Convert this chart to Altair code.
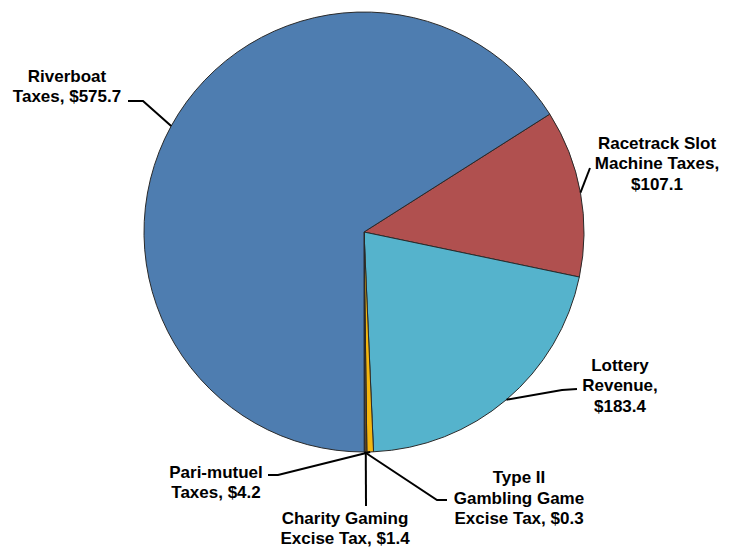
import math
import altair as alt
import pandas as pd

# ---- data ----
categories = ["Racetrack Slot Machine Taxes", "Lottery Revenue", "Pari-mutuel Taxes",
              "Charity Gaming Excise Tax", "Type II Gambling Game Excise Tax", "Riverboat Taxes"]
values = [107.1, 183.4, 4.2, 1.4, 0.3, 575.7]
labels = ["Racetrack Slot\nMachine Taxes,\n$107.1",
          "Lottery\nRevenue,\n$183.4",
          "Pari-mutuel\nTaxes, $4.2",
          "Charity Gaming\nExcise Tax, $1.4",
          "Type II\nGambling Game\nExcise Tax, $0.3",
          "Riverboat\nTaxes, $575.7"]
colors = ["#B0504F", "#55B3CC", "#F4B70F", "#6B4A1E", "#3D2B14", "#4E7DB0"]

# ---- layout (chart pixel coordinates) ----
W, H = 713, 540
CX, CY, R = 356, 224, 220
START_DEG = 57.6
LH = 20.5
# per slice: leader-line bend points after the arc anchor, and label block centre
leader_pts = [
    [(582, 160)],
    [(554, 382), (569, 381)],
    [(270, 467), (260, 467)],
    [(358, 498)],
    [(429, 492), (439, 492)],
    [(135, 93), (120, 93)],
]
label_pos = [(649, 155), (612, 377), (208, 474), (337, 520), (511, 489.5), (59, 78)]

total = sum(values)
a0 = math.radians(START_DEG)

pie_df = pd.DataFrame({"category": categories, "value": values,
                       "ord": list(range(len(categories)))})

# leader lines: start on the rim at each slice's mid-angle
rows = []
cum = 0.0
for i, v in enumerate(values):
    mid = a0 + 2 * math.pi * (cum + v / 2) / total
    cum += v
    pts = [(CX + R * math.sin(mid), CY - R * math.cos(mid))] + leader_pts[i]
    for j, (px, py) in enumerate(pts):
        rows.append({"category": categories[i], "k": j, "x": px, "y": py})
line_df = pd.DataFrame(rows)

trows = []
for i, lab in enumerate(labels):
    parts = lab.split("\n")
    n = len(parts)
    for j, p in enumerate(parts):
        trows.append({"text": p, "x": label_pos[i][0],
                      "y": label_pos[i][1] + (j - (n - 1) / 2) * LH})
text_df = pd.DataFrame(trows)

xs = alt.Scale(domain=[0, W], range=[0, W])
ys = alt.Scale(domain=[0, H], range=[0, H])

pie = alt.Chart(pie_df).mark_arc(outerRadius=R, stroke="#2a2a2a", strokeWidth=1).encode(
    theta=alt.Theta("value:Q", stack=True,
                    scale=alt.Scale(range=[a0, a0 + 2 * math.pi])),
    color=alt.Color("category:N", scale=alt.Scale(domain=categories, range=colors), legend=None),
    order=alt.Order("ord:Q"),
    x=alt.value(CX),
    y=alt.value(CY),
)

lines = alt.Chart(line_df).mark_line(color="black", strokeWidth=2).encode(
    x=alt.X("x:Q", scale=xs, axis=None),
    y=alt.Y("y:Q", scale=ys, axis=None),
    detail="category:N",
    order="k:Q",
)

texts = alt.Chart(text_df).mark_text(
    font="Liberation Sans", fontSize=17, fontWeight="bold", color="black",
    align="center", baseline="middle", dy=1,
).encode(
    x=alt.X("x:Q", scale=xs, axis=None),
    y=alt.Y("y:Q", scale=ys, axis=None),
    text="text:N",
)

chart = alt.layer(pie, lines, texts).properties(
    width=W, height=H, padding=0, autosize="none"
).configure_view(stroke=None)

chart.save("out.html", embed_options={"renderer": "svg", "actions": False})
